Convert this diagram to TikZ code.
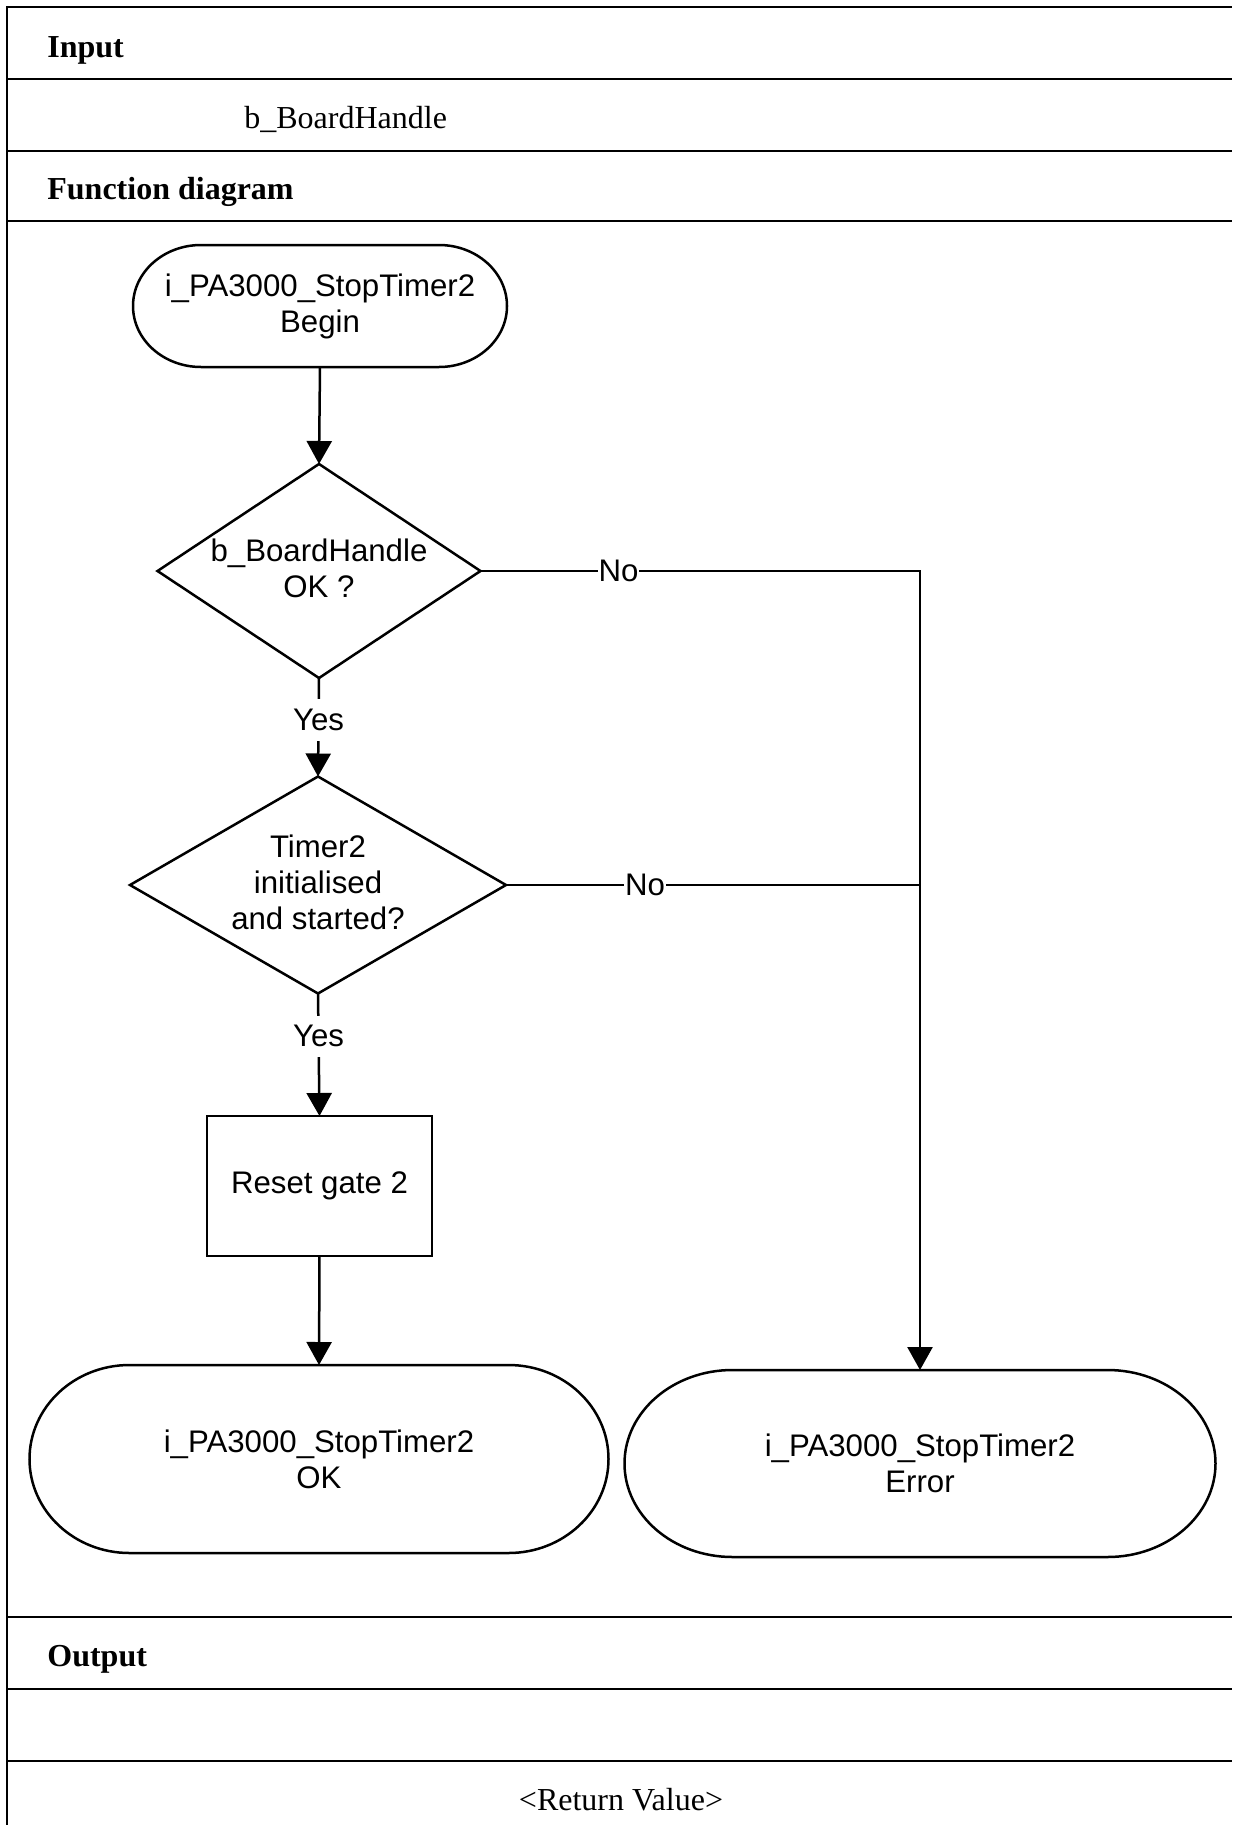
\documentclass[tikz,border=0pt]{standalone}
\usepackage{fontspec}
\setmainfont{Liberation Serif}
\newfontfamily\flowfont{Liberation Sans}
\usetikzlibrary{arrows.meta,calc,shapes.geometric}

% stadium outline (straight top/bottom, elliptic ends) around a named node
% #1 node name, #2 horizontal end radius, #3 vertical end radius
\newcommand\stadiumoutline[3]{%
  \draw[shapeline] ($(#1.north west)+(#2,0)$) -- ($(#1.north east)+(-#2,0)$)
    arc[start angle=90, end angle=-90, x radius=#2, y radius=#3]
    -- ($(#1.south west)+(#2,0)$)
    arc[start angle=270, end angle=90, x radius=#2, y radius=#3] -- cycle;}

\begin{document}
\begin{tikzpicture}[x=0.5pt, y=-0.5pt,
  rule/.style={line width=1.4pt},
  shapeline/.style={line width=1.25pt},
  flow/.style={shapeline, -{Triangle[length=11.5pt,width=12.5pt]}},
  heading/.style={font=\fontsize{16}{19}\selectfont\bfseries, anchor=base west, inner sep=0pt},
  entry/.style={font=\fontsize{16}{19}\selectfont, anchor=base west, inner sep=0pt},
  txt/.style={font=\flowfont\fontsize{15.6}{18}\selectfont, align=center},
  term/.style={rectangle, inner sep=0pt, outer sep=0pt, txt},
  dec/.style={diamond, draw, shapeline, inner sep=0pt, outer sep=0pt},
  proc/.style={rectangle, draw, shapeline, inner sep=0pt, outer sep=0pt, txt},
  lab/.style={txt, fill=white, inner xsep=0.5pt, inner ysep=5pt}
]
\useasboundingbox (0,0) rectangle (1232,1825);

% table frame and row rules
\draw[rule] (7,1825) -- (7,7) -- (1232,7);
\foreach \y in {79,151,221,1617,1689,1761}
  \draw[rule] (7,\y) -- (1232,\y);

% table texts
\node[heading] (inhead) at (47,58) {Input};
\node[entry] (inval) at (244,128) {b\_BoardHandle};
\node[heading] (fnhead) at (47,199) {Function diagram};
\node[heading] (outhead) at (47,1666) {Output};
\node[entry, anchor=base] (retval) at (621,1810) {<Return Value>};

% flowchart nodes
\node[term, minimum width=187pt, minimum height=61pt] (begin) at (320,306)
  {i\_PA3000\_StopTimer2\\Begin};
\node[dec, minimum width=161.5pt, minimum height=107pt] (d1) at (319,571) {};
\node[txt] (d1t) at (319,568) {b\_BoardHandle\\OK ?};
\node[dec, minimum width=188pt, minimum height=108.5pt] (d2) at (318,885) {};
\node[txt] (d2t) at (318,882) {Timer2\\initialised\\and started?};
\node[proc, minimum width=112.5pt, minimum height=70pt] (reset) at (319.5,1186) {Reset gate 2};
\node[term, minimum width=289.5pt, minimum height=94pt] (ok) at (319,1459)
  {i\_PA3000\_StopTimer2\\OK};
\node[term, minimum width=295.5pt, minimum height=93.5pt] (err) at (920,1463.5)
  {i\_PA3000\_StopTimer2\\Error};

\stadiumoutline{begin}{34pt}{30.5pt}
\stadiumoutline{ok}{50pt}{47pt}
\stadiumoutline{err}{54pt}{46.75pt}

% connectors
\draw[flow] (begin.south) -- (d1.north);
\draw[flow] (d1.south) -- node[lab, pos=0.43] (y1) {Yes} (d2.north);
\draw[flow] (d2.south) -- node[lab, pos=0.35] (y2) {Yes} (reset.north);
\draw[flow] (reset.south) -- (ok.north);
\coordinate (bend) at (err.north |- d1.east);
\draw[flow] (d1.east) -- node[lab, pos=0.314] (n1) {No} (bend) -- (err.north);
\draw[shapeline] (d2.east) -- node[lab, pos=0.336] (n2) {No} (d2.east -| err.north);
\end{tikzpicture}
\end{document}
